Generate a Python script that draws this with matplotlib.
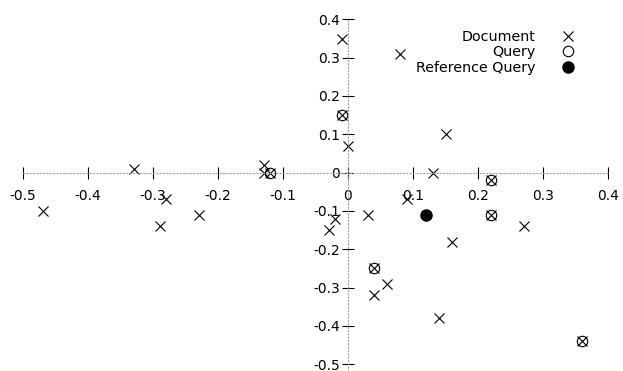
import matplotlib
matplotlib.use("Agg")
import matplotlib.pyplot as plt

plt.rcParams['font.family'] = ['DejaVu Sans']
plt.rcParams['axes.unicode_minus'] = False

# points
doc_x = [-0.01, 0.08, -0.01, 0.0, 0.15, 0.13, 0.22, -0.33, -0.13, -0.13, -0.12,
         -0.47, -0.28, -0.29, -0.23, 0.09, 0.03, -0.02, -0.03, 0.22, 0.27, 0.16,
         0.04, 0.06, 0.04, 0.14, 0.36]
doc_y = [0.35, 0.31, 0.15, 0.07, 0.10, 0.0, -0.02, 0.01, 0.02, 0.0, 0.0,
         -0.10, -0.07, -0.14, -0.11, -0.07, -0.11, -0.12, -0.15, -0.11, -0.14, -0.18,
         -0.25, -0.29, -0.32, -0.38, -0.44]
query_x = [-0.01, 0.22, -0.12, 0.22, 0.04, 0.36]
query_y = [0.15, -0.02, 0.0, -0.11, -0.25, -0.44]
ref_x = [0.12]
ref_y = [-0.11]

xticks = [-0.5, -0.4, -0.3, -0.2, -0.1, 0, 0.1, 0.2, 0.3, 0.4]
xtick_labels = ['-0.5', '-0.4', '-0.3', '-0.2', '-0.1', '0', '0.1', '0.2', '0.3', '0.4']
yticks = [-0.5, -0.4, -0.3, -0.2, -0.1, 0, 0.1, 0.2, 0.3, 0.4]
ytick_labels = ['-0.5', '-0.4', '-0.3', '-0.2', '-0.1', '0', '0.1', '0.2', '0.3', '0.4']

fig = plt.figure(figsize=(6.23, 3.71), dpi=100)
ax = fig.add_axes([23 / 623, 0.0, 585 / 623, 352 / 371])
ax.set_xlim(-0.5, 0.4)
ax.set_ylim(-0.518, 0.401)

# gnuplot style zero axes
for side in ['top', 'right']:
    ax.spines[side].set_visible(False)
for side in ['left', 'bottom']:
    ax.spines[side].set_position('zero')
    ax.spines[side].set_linestyle((0, (1, 2)))
    ax.spines[side].set_color('#a0a0a0')
    ax.spines[side].set_linewidth(0.8)

ax.set_xticks(xticks)
ax.set_xticklabels(xtick_labels)
ax.set_yticks(yticks)
ax.set_yticklabels(ytick_labels)
ax.tick_params(axis='both', direction='inout', length=9, width=0.8,
               color='black', labelsize=10)
ax.tick_params(axis='x', pad=7)
ax.tick_params(axis='y', pad=1)

ax.plot(doc_x, doc_y, linestyle='none', marker='x', markersize=7.5,
        markeredgewidth=0.8, color='black', label='Document')
ax.plot(query_x, query_y, linestyle='none', marker='o', markersize=7.5,
        markeredgewidth=0.8, markerfacecolor='none', color='black', label='Query')
ax.plot(ref_x, ref_y, linestyle='none', marker='o', markersize=8,
        color='black', label='Reference Query')

ax.legend(loc='upper right', bbox_to_anchor=(0.947, 0.97), frameon=False,
          markerfirst=False, borderpad=0, borderaxespad=0, labelspacing=0.12,
          handlelength=1.2, handletextpad=1.7, fontsize=10.3)

fig.savefig('out.png', dpi=100)
